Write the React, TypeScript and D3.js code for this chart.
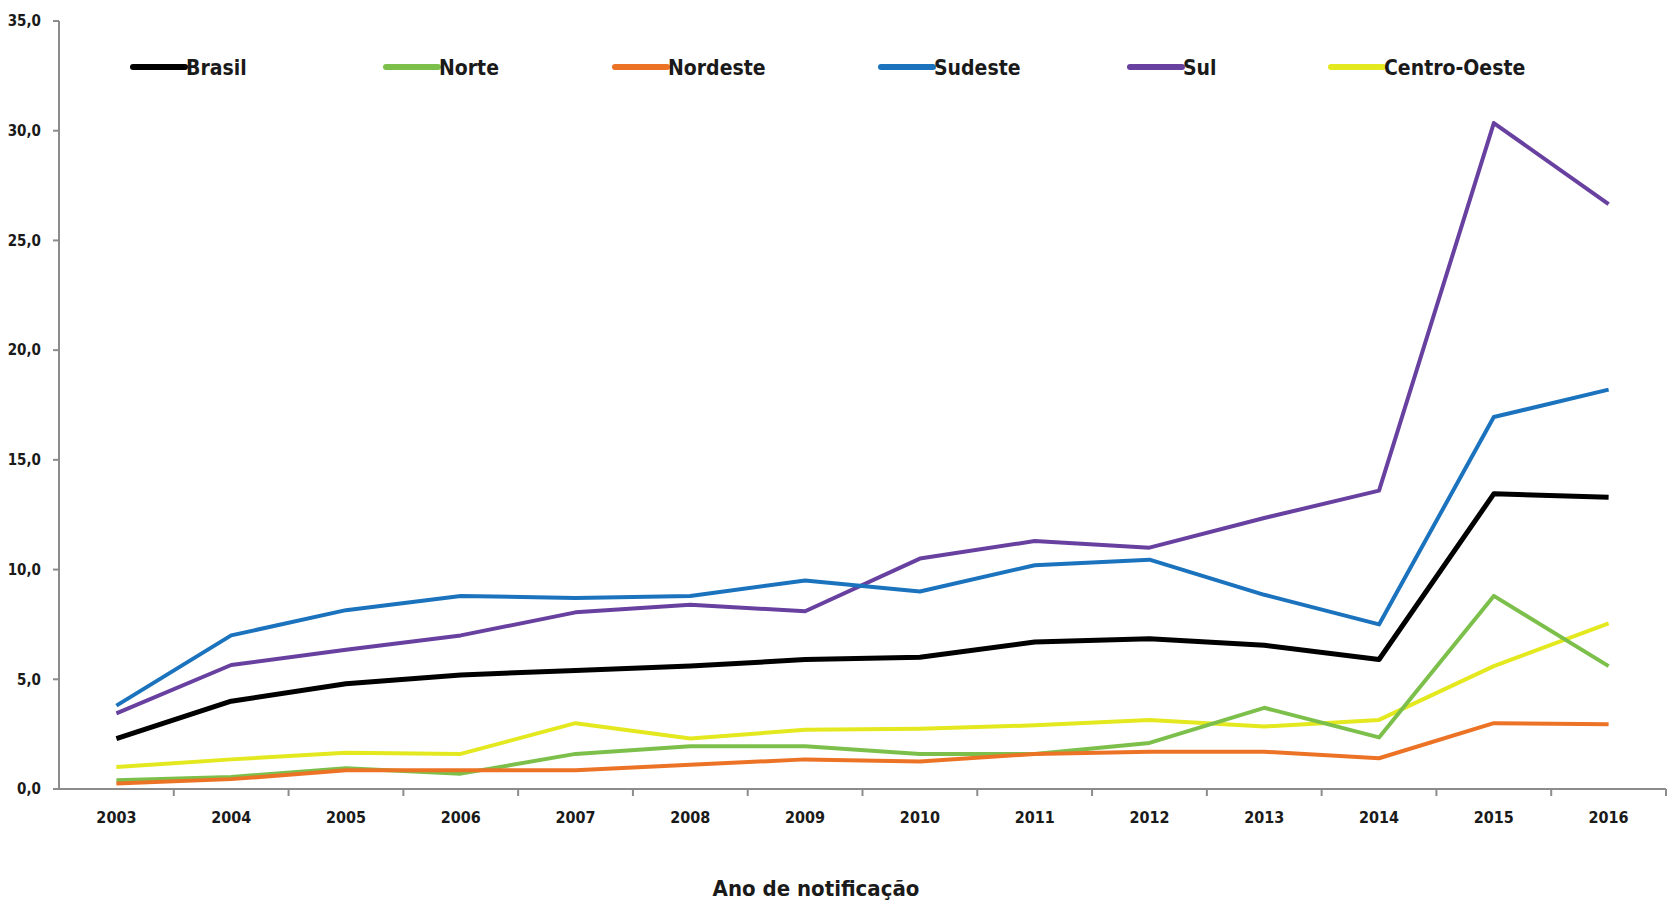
import React from "react";
import * as d3 from "d3";

const years = ["2003","2004","2005","2006","2007","2008","2009","2010","2011","2012","2013","2014","2015","2016"];
const seriesNames = ["Brasil","Norte","Nordeste","Sudeste","Sul","Centro-Oeste"];
const brasil = [2.3,4.0,4.8,5.2,5.4,5.6,5.9,6.0,6.7,6.85,6.55,5.9,13.45,13.3];
const norte = [0.4,0.55,0.95,0.7,1.6,1.95,1.95,1.6,1.6,2.1,3.7,2.35,8.8,5.6];
const nordeste = [0.25,0.45,0.85,0.85,0.85,1.1,1.35,1.25,1.6,1.7,1.7,1.4,3.0,2.95];
const sudeste = [3.8,7.0,8.15,8.8,8.7,8.8,9.5,9.0,10.2,10.45,8.85,7.5,16.95,18.2];
const sul = [3.45,5.65,6.35,7.0,8.05,8.4,8.1,10.5,11.3,11.0,12.35,13.6,30.35,26.65];
const centroOeste = [1.0,1.35,1.65,1.6,3.0,2.3,2.7,2.75,2.9,3.15,2.85,3.15,5.6,7.55];
const yTicks = [0,5,10,15,20,25,30,35];

const colors = ["#000000","#7cc04b","#ec7326","#1b73be","#6841a0","#e4e81e"];
const widths = [5,4,4,4,4,4];
const allSeries = [brasil, norte, nordeste, sudeste, sul, centroOeste];
const legendX = [133, 386, 615, 881, 1130, 1331];

const FONT = "'Liberation Sans Narrow', 'DejaVu Sans Condensed', 'Arial Narrow', sans-serif";

export default function App() {
  const left = 59, right = 1666, top = 21, bottom = 789;
  const xBand = d3.scaleBand<string>().domain(years).range([left, right]).padding(0);
  const x = (yr: string) => (xBand(yr) as number) + xBand.bandwidth() / 2;
  const y = d3.scaleLinear().domain([0, 35]).range([bottom, top]);
  const line = d3.line<number>().x((_, i) => x(years[i])).y((d) => y(d));
  const order = [5, 1, 2, 4, 3, 0];
  return (
    <svg width={1672} height={908} style={{ position: "absolute", left: 0, top: 0, background: "#fff" }}>
      {/* axes */}
      <line x1={left} x2={left} y1={top} y2={bottom} stroke="#8c8c8c" strokeWidth={2} />
      <line x1={left} x2={right} y1={bottom} y2={bottom} stroke="#8c8c8c" strokeWidth={2} />
      {yTicks.map((t) => (
        <g key={t}>
          <line x1={left - 6} x2={left} y1={y(t)} y2={y(t)} stroke="#8c8c8c" strokeWidth={2} />
          <text x={left - 18} y={y(t)} dy="0.35em" textAnchor="end" fontFamily={FONT} fontWeight="bold" fontSize={15} fill="#1a1a1a">
            {d3.format(".1f")(t).replace(".", ",")}
          </text>
        </g>
      ))}
      {years.map((yr, i) => (
        <g key={yr}>
          <line x1={(xBand(yr) as number) + xBand.bandwidth()} x2={(xBand(yr) as number) + xBand.bandwidth()} y1={bottom} y2={bottom + 7} stroke="#8c8c8c" strokeWidth={2} />
          <text x={x(yr)} y={bottom + 34} textAnchor="middle" fontFamily={FONT} fontWeight="bold" fontSize={16} fill="#1a1a1a">{yr}</text>
        </g>
      ))}
      <text x={816} y={896} textAnchor="middle" fontFamily={FONT} fontWeight="bold" fontSize={22} fill="#1a1a1a">Ano de notificação</text>
      {/* lines */}
      {order.map((k) => (
        <path key={k} d={line(allSeries[k]) as string} fill="none" stroke={colors[k]} strokeWidth={widths[k]} strokeLinejoin="round" />
      ))}
      {/* legend */}
      {seriesNames.map((n, k) => (
        <g key={n}>
          <line x1={legendX[k]} x2={legendX[k] + 52} y1={67} y2={67} stroke={colors[k]} strokeWidth={6} strokeLinecap="round" />
          <text x={legendX[k] + 53} y={67} dy="0.36em" fontFamily={FONT} fontWeight="bold" fontSize={21} fill="#1a1a1a">{n}</text>
        </g>
      ))}
    </svg>
  );
}
